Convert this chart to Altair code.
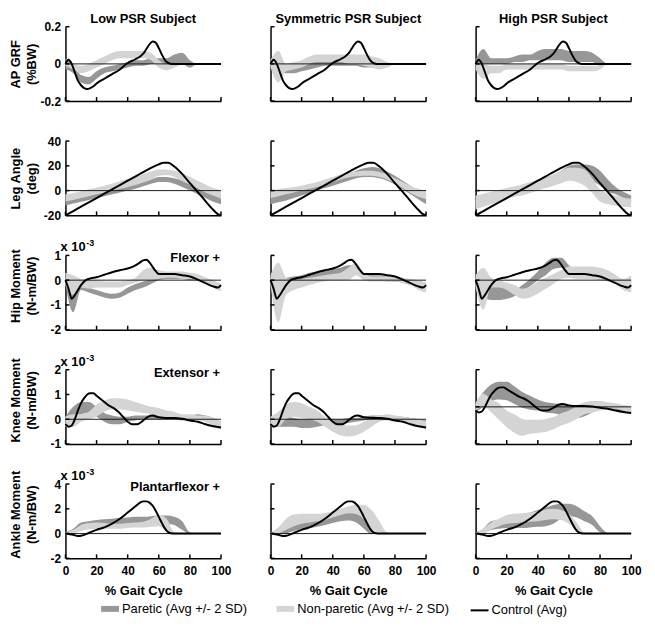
import altair as alt
import pandas as pd

FONT = "Liberation Sans"
W, H = 157, 75

SUBJECTS = ["Low", "Symmetric", "High"]
COLUMN_TITLES = ["Low PSR Subject", "Symmetric PSR Subject", "High PSR Subject"]
X = [0, 5, 10, 15, 20, 25, 30, 35, 40, 45, 50, 55, 60, 65, 70, 75, 80, 85, 90, 95, 100]
X_TICKS = [0, 20, 40, 60, 80, 100]
X_TITLE = "% Gait Cycle"

SERIES = ["Paretic (Avg +/- 2 SD)", "Non-paretic (Avg +/- 2 SD)", "Control (Avg)"]
DARK, LIGHT = "#979797", "#d4d4d4"
SERIES_COLORS = [DARK, LIGHT, "#000000"]
SERIES_WIDTHS = [6, 6, 2]
SCALE_NOTE = "x 10"
SCALE_EXP = "-3"

# ---------------- AP GRF ----------------
GRF_CTRL_X = [0, 2, 4, 6, 8, 10, 12, 14, 16, 18, 20, 25, 30, 35, 40, 45, 48, 50, 52, 54, 56, 58, 60, 62, 64, 66, 68, 70, 100]
GRF_CTRL_Y = [0, 0.022, 0.0, -0.045, -0.09, -0.115, -0.13, -0.135, -0.13, -0.12, -0.105, -0.08, -0.055, -0.03,
              0.005, 0.025, 0.04, 0.055, 0.08, 0.105, 0.12, 0.115, 0.085, 0.05, 0.02, 0.005, 0, 0, 0]
GRF_PARETIC = {
    "Low": ([-0.03, -0.05, -0.10, -0.11, -0.08, -0.05, -0.04, -0.03, -0.02, -0.01, -0.01, 0.0, 0.0, -0.01, 0.0, 0.0, -0.02, 0, 0, 0, 0],
            [0.03, 0.0, -0.06, -0.07, -0.04, -0.02, -0.01, 0.0, 0.01, 0.02, 0.02, 0.03, 0.03, 0.03, 0.05, 0.06, 0.02, 0, 0, 0, 0]),
    "Symmetric": ([-0.01, -0.03, -0.05, -0.05, -0.04, -0.03, -0.02, -0.01, -0.01, -0.01, -0.01, -0.01, -0.02, -0.02, -0.01, 0, 0, 0, 0, 0, 0],
                  [0.01, 0.02, -0.01, -0.01, 0.0, 0.01, 0.02, 0.03, 0.03, 0.03, 0.03, 0.03, 0.02, 0.02, 0.01, 0, 0, 0, 0, 0, 0]),
    "High": ([0.0, 0.0, 0.0, 0.0, 0.0, 0.01, 0.01, 0.02, 0.02, 0.02, 0.02, 0.02, 0.01, 0.01, 0.01, 0.01, -0.01, 0, 0, 0, 0],
             [0.02, 0.08, 0.03, 0.03, 0.03, 0.04, 0.05, 0.05, 0.07, 0.08, 0.08, 0.08, 0.07, 0.07, 0.07, 0.06, 0.03, 0, 0, 0, 0]),
}
GRF_NONPARETIC = {
    "Low": ([-0.01, -0.03, -0.05, -0.04, -0.02, 0.0, 0.02, 0.03, 0.03, 0.03, 0.03, 0.02, -0.02, -0.035, -0.02, 0, 0, 0, 0, 0, 0],
            [0.01, 0.0, -0.01, 0.0, 0.02, 0.04, 0.06, 0.07, 0.07, 0.07, 0.07, 0.06, 0.02, 0.0, 0.0, 0, 0, 0, 0, 0, 0]),
    "Symmetric": ([-0.02, -0.10, -0.04, -0.03, -0.02, 0.0, 0.01, 0.01, 0.01, 0.01, 0.0, 0.0, -0.01, -0.02, -0.03, -0.02, 0, 0, 0, 0, 0],
                  [0.02, 0.07, 0.0, 0.01, 0.02, 0.04, 0.05, 0.05, 0.05, 0.05, 0.05, 0.05, 0.05, 0.04, 0.03, 0.01, 0, 0, 0, 0, 0]),
    "High": ([-0.03, -0.08, -0.05, -0.05, -0.03, -0.03, -0.03, -0.03, -0.03, -0.03, -0.03, -0.03, -0.04, -0.04, -0.04, -0.04, -0.03, 0, 0, 0, 0],
             [0.0, 0.0, -0.01, -0.01, 0.0, 0.0, 0.0, 0.0, 0.0, 0.0, 0.0, 0.0, -0.01, -0.01, -0.01, -0.01, -0.01, 0, 0, 0, 0]),
}

# ---------------- Leg angle ----------------
ANG_CTRL_X = [0, 10, 20, 30, 40, 50, 55, 60, 63, 66, 70, 75, 80, 85, 90, 95, 98, 100]
ANG_CTRL_Y = [-20, -13, -6, 1, 8, 15, 18.3, 21.2, 22.5, 22.5, 19.5, 13.5, 6, -1, -8.5, -15.5, -19, -20]
ANG_PARETIC = {
    "Low": ([-12, -10.5, -9, -7.5, -6, -4.5, -3, -1.5, 0, 1.5, 3.5, 5.5, 7, 7, 5.5, 3, 0, -3, -6, -9, -11],
            [-8, -7, -5.5, -4, -2.5, -1, 0.5, 2, 3.5, 5, 7, 9, 11, 11, 10, 8, 5, 2, -1, -3.5, -6]),
    "Symmetric": ([-11, -9.5, -8, -6, -4, -2, 0, 2, 4, 6, 8, 10, 11, 11, 10, 8, 5, 1, -3, -7, -11],
                  [-4, -3, -1.5, 0, 1.5, 3, 5, 7, 9, 11, 13, 16, 18, 19, 18, 15.5, 12, 8, 4, 0, -3]),
    "High": ([-10, -8.5, -7, -5.5, -4, -2.5, -1, 1, 3, 5, 8, 11, 14, 14, 11, 8, 4, -1, -3, -6, -9],
             [-8, -6.5, -5, -3.5, -2, -0.5, 1, 3, 5, 8, 12, 16, 20, 21, 21, 20, 16, 9, 3, -1, -4]),
}
ANG_NONPARETIC = {
    "Low": ([-8.5, -7.5, -6, -4.5, -3, -1.5, 0, 1.5, 3, 4.5, 6.5, 9, 12, 12.5, 11, 8, 5, 2, -1.5, -4, -6.5],
            [-3, -2, -0.5, 1, 2.5, 4, 5.5, 7.5, 9.5, 11.5, 13.5, 15.5, 17, 17, 16, 14, 11, 8, 5, 2, 0]),
    "Symmetric": ([-6, -4.5, -3, -1.5, 0, 1.5, 3, 5, 7, 9, 10.5, 11.5, 12, 12, 11, 9, 6, 2, -2, -5, -7],
                  [0, 1, 2, 3, 4, 5.5, 7, 9, 11, 13, 14.5, 15.5, 16, 16, 15, 13, 10, 7, 4, 1.5, 0]),
    "High": ([-15, -13, -11, -9, -7, -5, -4, -2, 0, 2, 4, 6, 8, 7, 4, -2, -9, -11, -12, -13, -13.5],
             [-4, -2.5, -1, 0.5, 2, 3.5, 5, 7, 9, 11, 13, 16, 18.5, 18.5, 17, 10, 1, -2, -4, -5.5, -6.5]),
}

# ---------------- Hip moment (x 10^-3) ----------------
HIP_CTRL_X = [0, 2, 4, 6, 8, 10, 13, 16, 20, 25, 30, 35, 40, 45, 48, 50, 52, 54, 57, 60, 65, 70, 75, 80, 85, 90, 95, 98, 100]
HIP_CTRL_Y = [0, -0.35, -0.75, -0.6, -0.4, -0.2, 0.0, 0.07, 0.12, 0.22, 0.32, 0.4, 0.47, 0.6, 0.72, 0.8, 0.82, 0.72,
              0.45, 0.25, 0.25, 0.25, 0.2, 0.15, 0.02, -0.12, -0.25, -0.3, -0.2]
HIP_PARETIC = {
    "Low": ([-0.2, -1.3, -0.4, -0.5, -0.6, -0.7, -0.75, -0.7, -0.55, -0.4, -0.3, -0.15, 0.0, 0.05, 0.05, 0.05, 0.0, 0.0, -0.1, -0.3, -0.4],
            [0.1, -0.3, -0.1, -0.3, -0.4, -0.5, -0.55, -0.5, -0.3, -0.15, -0.05, 0.05, 0.25, 0.3, 0.3, 0.3, 0.25, 0.2, 0.1, -0.05, -0.15]),
    "Symmetric": ([-0.2, -0.4, -0.2, -0.1, 0.0, 0.05, 0.1, 0.15, 0.2, 0.25, 0.3, 0.3, 0.05, 0.0, 0.0, -0.05, -0.05, -0.1, -0.2, -0.3, -0.35],
                  [0.1, 0.2, 0.1, 0.15, 0.2, 0.3, 0.35, 0.4, 0.45, 0.5, 0.6, 0.6, 0.25, 0.2, 0.2, 0.15, 0.1, 0.05, 0.0, -0.05, -0.1]),
    "High": ([-0.2, -0.7, -0.8, -0.8, -0.75, -0.65, -0.45, -0.25, 0.0, 0.2, 0.45, 0.5, 0.3, 0.1, 0.05, 0.05, 0.05, 0.0, -0.1, -0.3, -0.4],
             [0.1, -0.2, -0.15, -0.2, -0.3, -0.4, -0.2, 0.05, 0.35, 0.7, 0.9, 0.9, 0.6, 0.3, 0.2, 0.2, 0.3, 0.35, 0.2, 0.0, 0.0]),
}
HIP_NONPARETIC = {
    "Low": ([-0.2, -0.6, -0.3, -0.35, -0.3, -0.3, -0.3, -0.3, -0.2, -0.1, 0.0, 0.0, 0.05, 0.1, 0.1, 0.05, 0.05, 0.0, -0.1, -0.3, -0.45],
            [0.3, 0.2, 0.05, 0.0, 0.0, -0.05, -0.05, -0.05, 0.0, 0.1, 0.4, 0.5, 0.4, 0.35, 0.35, 0.35, 0.3, 0.25, 0.1, 0.0, -0.15]),
    "Symmetric": ([-0.2, -1.7, -0.6, -0.4, -0.3, -0.2, -0.1, -0.05, 0.0, 0.0, 0.0, 0.2, 0.0, -0.05, -0.05, -0.05, -0.05, -0.1, -0.2, -0.4, -0.5],
                  [0.2, 0.7, 0.1, 0.0, 0.05, 0.1, 0.15, 0.2, 0.25, 0.3, 0.5, 0.7, 0.3, 0.15, 0.15, 0.15, 0.15, 0.1, 0.05, 0.0, -0.1]),
    "High": ([-0.3, -1.2, -0.3, -0.3, -0.4, -0.6, -0.75, -0.7, -0.55, -0.35, -0.15, 0.05, 0.1, 0.05, 0.05, 0.05, 0.0, -0.05, -0.15, -0.4, -0.5],
             [0.2, 0.5, 0.1, 0.0, -0.1, -0.2, -0.35, -0.25, -0.05, 0.1, 0.25, 0.4, 0.55, 0.55, 0.55, 0.55, 0.5, 0.4, 0.2, 0.05, 0.2]),
}

# ---------------- Knee moment (x 10^-3) ----------------
KNEE_CTRL_X = [0, 2, 4, 6, 8, 10, 12, 14, 16, 18, 20, 22, 25, 28, 31, 34, 37, 40, 43, 46, 50, 53, 56, 60, 65, 70, 75, 80, 85, 90, 95, 100]
KNEE_CTRL_Y = [-0.2, -0.3, -0.25, 0.0, 0.35, 0.65, 0.85, 1.0, 1.05, 1.05, 0.95, 0.85, 0.7, 0.55, 0.45, 0.3, 0.1, -0.1,
               -0.2, -0.2, -0.05, 0.1, 0.15, 0.08, 0.05, 0.05, 0.02, -0.05, -0.1, -0.2, -0.28, -0.33]
KNEE_PARETIC = {
    "Low": ([-0.3, 0.0, 0.2, 0.25, 0.1, -0.1, -0.2, -0.2, -0.1, -0.05, 0.0, 0.0, 0.0, 0.0, 0.0, -0.05, 0.0, 0.0, -0.05, -0.2, -0.35],
            [0.1, 0.5, 0.7, 0.7, 0.5, 0.25, 0.15, 0.1, 0.1, 0.15, 0.15, 0.15, 0.15, 0.15, 0.1, 0.1, 0.15, 0.2, 0.15, 0.05, -0.1]),
    "Symmetric": ([-0.3, -0.3, -0.3, -0.3, -0.35, -0.35, -0.3, -0.25, -0.2, -0.2, -0.15, -0.1, -0.05, 0.0, 0.0, 0.0, 0.0, -0.05, -0.1, -0.25, -0.3],
                  [0.0, 0.1, 0.1, 0.05, 0.0, 0.0, 0.05, 0.0, 0.0, 0.0, 0.05, 0.05, 0.1, 0.15, 0.15, 0.15, 0.1, 0.1, 0.05, 0.0, -0.05]),
    "High": ([-0.3, 0.0, 0.3, 0.4, 0.35, 0.15, -0.05, -0.15, -0.2, -0.3, -0.35, -0.45, -0.6, -0.6, -0.5, -0.3, -0.15, -0.1, -0.15, -0.25, -0.35],
             [0.2, 0.8, 1.2, 1.35, 1.35, 1.1, 0.8, 0.6, 0.4, 0.25, 0.2, 0.15, 0.1, 0.1, 0.2, 0.3, 0.3, 0.2, 0.15, 0.05, 0.0]),
}
KNEE_NONPARETIC = {
    "Low": ([-0.3, -0.3, -0.1, 0.0, 0.1, 0.3, 0.4, 0.4, 0.35, 0.3, 0.25, 0.2, 0.1, 0.05, 0.05, 0.0, 0.0, -0.05, -0.1, -0.3, -0.4],
            [0.1, 0.2, 0.2, 0.3, 0.6, 0.75, 0.85, 0.85, 0.8, 0.7, 0.6, 0.5, 0.45, 0.35, 0.3, 0.2, 0.2, 0.15, 0.15, 0.05, -0.1]),
    "Symmetric": ([-0.2, -0.3, 0.0, 0.1, 0.05, 0.0, -0.1, -0.3, -0.5, -0.65, -0.7, -0.65, -0.5, -0.3, -0.1, -0.05, -0.05, -0.1, -0.15, -0.3, -0.4],
                  [0.1, 0.3, 0.6, 0.7, 0.65, 0.5, 0.35, 0.1, -0.1, -0.2, -0.25, -0.25, -0.1, 0.05, 0.15, 0.2, 0.15, 0.1, 0.05, 0.0, -0.1]),
    "High": ([-0.2, 0.0, -0.3, -0.7, -1.1, -1.4, -1.55, -1.45, -1.4, -1.35, -1.2, -1.0, -0.85, -0.65, -0.4, -0.3, -0.2, -0.1, -0.1, -0.2, -0.4],
             [0.2, 0.7, 0.4, 0.2, -0.2, -0.4, -0.65, -0.7, -0.7, -0.65, -0.55, -0.35, -0.2, 0.05, 0.25, 0.3, 0.3, 0.25, 0.2, 0.1, 0.05]),
}

# ---------------- Ankle moment (x 10^-3) ----------------
ANK_CTRL_X = [0, 3, 5, 8, 10, 12, 15, 20, 25, 30, 35, 40, 45, 48, 50, 52, 54, 56, 58, 60, 62, 64, 66, 68, 70, 100]
ANK_CTRL_Y = [0, -0.05, -0.1, -0.2, -0.18, -0.1, 0.05, 0.3, 0.5, 0.8, 1.2, 1.7, 2.2, 2.5, 2.6, 2.6, 2.5, 2.25, 1.85,
              1.35, 0.85, 0.4, 0.12, 0.02, 0, 0]
ANK_PARETIC = {
    "Low": ([-0.1, 0.0, 0.3, 0.5, 0.6, 0.65, 0.7, 0.75, 0.8, 0.85, 0.85, 0.85, 0.85, 0.8, 0.7, 0.3, -0.05, 0, 0, 0, 0],
            [0.1, 0.4, 0.9, 1.0, 1.1, 1.15, 1.2, 1.25, 1.3, 1.35, 1.35, 1.4, 1.45, 1.45, 1.35, 1.0, 0.1, 0, 0, 0, 0]),
    "Symmetric": ([-0.1, -0.1, 0.0, 0.2, 0.35, 0.45, 0.55, 0.7, 0.85, 1.0, 1.05, 0.9, 0.4, -0.05, 0, 0, 0, 0, 0, 0, 0],
                  [0.1, 0.2, 0.4, 0.65, 0.85, 0.95, 1.05, 1.2, 1.4, 1.6, 1.7, 1.6, 1.2, 0.2, 0, 0, 0, 0, 0, 0, 0]),
    "High": ([-0.1, 0.0, 0.3, 0.4, 0.45, 0.45, 0.45, 0.5, 0.55, 0.6, 0.8, 1.2, 1.4, 1.3, 1.0, 0.7, 0.1, -0.05, 0, 0, 0],
             [0.1, 0.4, 1.0, 1.1, 1.2, 1.3, 1.45, 1.7, 1.9, 2.1, 2.3, 2.4, 2.4, 2.2, 1.8, 1.4, 0.6, 0.05, 0, 0, 0]),
}
ANK_NONPARETIC = {
    "Low": ([-0.1, 0.0, 0.2, 0.35, 0.4, 0.4, 0.4, 0.4, 0.45, 0.5, 0.5, 0.55, 0.6, 0.2, -0.05, 0, 0, 0, 0, 0, 0],
            [0.1, 0.3, 0.7, 0.85, 0.9, 0.85, 0.8, 0.8, 0.85, 0.9, 0.95, 1.2, 1.5, 1.2, 0.1, 0, 0, 0, 0, 0, 0]),
    "Symmetric": ([-0.1, 0.0, 0.3, 0.6, 0.8, 0.9, 1.0, 1.1, 1.3, 1.5, 1.65, 1.6, 1.2, 0.4, 0.05, -0.05, 0, 0, 0, 0, 0],
                  [0.1, 0.5, 1.2, 1.55, 1.6, 1.6, 1.6, 1.65, 1.8, 2.0, 2.2, 2.35, 2.3, 1.9, 1.0, 0.1, 0, 0, 0, 0, 0]),
    "High": ([-0.1, 0.0, 0.35, 0.6, 0.8, 0.85, 0.9, 0.95, 1.0, 1.1, 1.15, 1.1, 0.8, 0.3, -0.05, 0, 0, 0, 0, 0, 0],
             [0.1, 0.4, 0.9, 1.2, 1.5, 1.6, 1.65, 1.7, 1.8, 1.95, 2.0, 1.9, 1.6, 0.9, 0.1, 0, 0, 0, 0, 0, 0]),
}

ROWS = [
    dict(title=["AP GRF", "(%BW)"], domain={"Low": [-0.2, 0.2], "Symmetric": [-0.2, 0.2], "High": [-0.2, 0.2]},
         yticks={"Low": [-0.2, 0, 0.2], "Symmetric": [-0.2, 0, 0.2], "High": [-0.2, 0, 0.2]},
         cx=GRF_CTRL_X, cy=GRF_CTRL_Y, par=GRF_PARETIC, non=GRF_NONPARETIC, note=None, sci=False),
    dict(title=["Leg Angle", "(deg)"], domain={"Low": [-20, 40], "Symmetric": [-20, 40], "High": [-20, 40]},
         yticks={"Low": [-20, 0, 20, 40], "Symmetric": [-20, 0, 20, 40], "High": [-20, 0, 20, 40]},
         cx=ANG_CTRL_X, cy=ANG_CTRL_Y, par=ANG_PARETIC, non=ANG_NONPARETIC, note=None, sci=False),
    dict(title=["Hip Moment", "(N-m/BW)"], domain={"Low": [-2, 1], "Symmetric": [-2, 1], "High": [-2, 1]},
         yticks={"Low": [-2, -1, 0, 1], "Symmetric": [-2, -1, 0, 1], "High": [-2, -1, 0, 1]},
         cx=HIP_CTRL_X, cy=HIP_CTRL_Y, par=HIP_PARETIC, non=HIP_NONPARETIC, note="Flexor +", sci=True),
    dict(title=["Knee Moment", "(N-m/BW)"], domain={"Low": [-1, 2], "Symmetric": [-1, 2], "High": [-2, 2]},
         yticks={"Low": [-1, 0, 1, 2], "Symmetric": [-1, 0, 1, 2], "High": [-2, 0, 2]},
         cx=KNEE_CTRL_X, cy=KNEE_CTRL_Y, par=KNEE_PARETIC, non=KNEE_NONPARETIC, note="Extensor +", sci=True),
    dict(title=["Ankle Moment", "(N-m/BW)"], domain={"Low": [-2, 4], "Symmetric": [-2, 4], "High": [-2, 4]},
         yticks={"Low": [-2, 0, 2, 4], "Symmetric": [-2, 0, 2, 4], "High": [-2, 0, 2, 4]},
         cx=ANK_CTRL_X, cy=ANK_CTRL_Y, par=ANK_PARETIC, non=ANK_NONPARETIC, note="Plantarflexor +", sci=True),
]

LEGEND = alt.Legend(orient="none", legendX=33, legendY=114, direction="horizontal", columns=3, title=None,
                    symbolType="stroke", symbolSize=324, labelFont=FONT, labelFontSize=13, labelColor="black",
                    columnPadding=17, labelOffset=0, padding=0)


def make_panel(r, c):
    row = ROWS[r]
    subj = SUBJECTS[c]
    first_col = c == 0
    last_row = r == len(ROWS) - 1
    dom = row["domain"][subj]
    yt = row["yticks"][subj]

    x_axis = alt.Axis(values=X_TICKS, ticks=False, grid=False, labels=last_row, labelFlush=False,
                      labelPadding=7, title=X_TITLE if last_row else None, titlePadding=8)
    ykw = dict(values=yt, ticks=False, grid=False, labels=first_col, labelFlush=False, labelPadding=5,
               labelExpr="'' + datum.value")
    if first_col:
        ykw.update(title=row["title"], titleX=-56, titleY=H / 2 - (7 if row["sci"] else 0), titleAngle=270,
                   titleAlign="center", titleBaseline="top", titleLineHeight=16)
    else:
        ykw.update(title=None)
    y_axis = alt.Axis(**ykw)
    xs = alt.Scale(domain=[0, 100], nice=False, zero=False)
    ys = alt.Scale(domain=dom, nice=False, zero=False)

    def XE():
        return alt.X("x:Q", scale=xs, axis=x_axis)

    def YE(f):
        return alt.Y(f"{f}:Q", scale=ys, axis=y_axis)

    plo, phi = row["par"][subj]
    nlo, nhi = row["non"][subj]
    par = alt.Chart(pd.DataFrame({"x": X, "lo": plo, "hi": phi})).mark_area(
        color=DARK, opacity=1, interpolate="monotone").encode(x=XE(), y=YE("lo"), y2="hi:Q")
    non = alt.Chart(pd.DataFrame({"x": X, "lo": nlo, "hi": nhi})).mark_area(
        color=LIGHT, opacity=1, interpolate="monotone").encode(x=XE(), y=YE("lo"), y2="hi:Q")
    zero = alt.Chart(pd.DataFrame({"y": [0]})).mark_rule(color="#1a1a1a", strokeWidth=1).encode(y=YE("y"))
    ctrl = alt.Chart(pd.DataFrame({"x": row["cx"], "y": row["cy"]})).mark_line(
        color="black", strokeWidth=2, interpolate="monotone").encode(x=XE(), y=YE("y"))
    xt = alt.Chart(pd.DataFrame({"x": X_TICKS})).mark_rule(color="black", strokeWidth=1.5).encode(
        x=XE(), y=alt.value(H), y2=alt.value(H - 4))
    ytk = alt.Chart(pd.DataFrame({"y": yt})).mark_rule(color="black", strokeWidth=1.5).encode(
        y=YE("y"), x=alt.value(0), x2=alt.value(4))
    layers = [par, non, zero, ctrl, xt, ytk]

    if r == 0:
        layers.append(alt.Chart(pd.DataFrame({"t": [COLUMN_TITLES[c]]})).mark_text(
            align="center", baseline="middle", font=FONT, fontSize=13, fontWeight="bold", color="black").encode(
            x=alt.value(W / 2), y=alt.value(-8), text="t:N"))
    if first_col and row["sci"]:
        layers.append(alt.Chart(pd.DataFrame({"t": [SCALE_NOTE]})).mark_text(
            align="left", baseline="middle", font=FONT, fontSize=13, fontWeight="bold", color="black").encode(
            x=alt.value(-5), y=alt.value(-8), text="t:N"))
        layers.append(alt.Chart(pd.DataFrame({"t": [SCALE_EXP]})).mark_text(
            align="left", baseline="middle", font=FONT, fontSize=9, fontWeight="bold", color="black").encode(
            x=alt.value(21), y=alt.value(-12), text="t:N"))
    if first_col and row["note"]:
        layers.append(alt.Chart(pd.DataFrame({"t": [row["note"]]})).mark_text(
            align="right", baseline="middle", font=FONT, fontSize=13, fontWeight="bold", color="black").encode(
            x=alt.value(W - 1), y=alt.value(3), text="t:N"))
    if first_col and last_row:
        layers.append(alt.Chart(pd.DataFrame({"series": SERIES, "x": [0, 0, 0], "y": [0, 0, 0]})).mark_line().encode(
            x=XE(), y=YE("y"),
            color=alt.Color("series:N", scale=alt.Scale(domain=SERIES, range=SERIES_COLORS), legend=LEGEND),
            strokeWidth=alt.StrokeWidth("series:N", scale=alt.Scale(type="ordinal", domain=SERIES, range=SERIES_WIDTHS),
                                        legend=LEGEND)))

    return alt.layer(*layers).properties(width=W, height=H)


panels = [make_panel(r, c) for r in range(len(ROWS)) for c in range(3)]

chart = alt.concat(*panels, columns=3, spacing={"row": 40.4, "column": 50}, bounds="flush").resolve_scale(
    color="independent", strokeWidth="independent"
).properties(
    padding={"left": 2, "top": 2, "right": 5, "bottom": 5}
).configure_view(stroke=None).configure_axis(
    domainColor="black", domainWidth=1.5, labelFont=FONT, labelFontSize=12, labelFontWeight="bold",
    labelColor="black", titleFont=FONT, titleFontSize=13, titleFontWeight="bold", titleColor="black"
)

chart.save("out.html", embed_options={"renderer": "svg", "actions": False})
